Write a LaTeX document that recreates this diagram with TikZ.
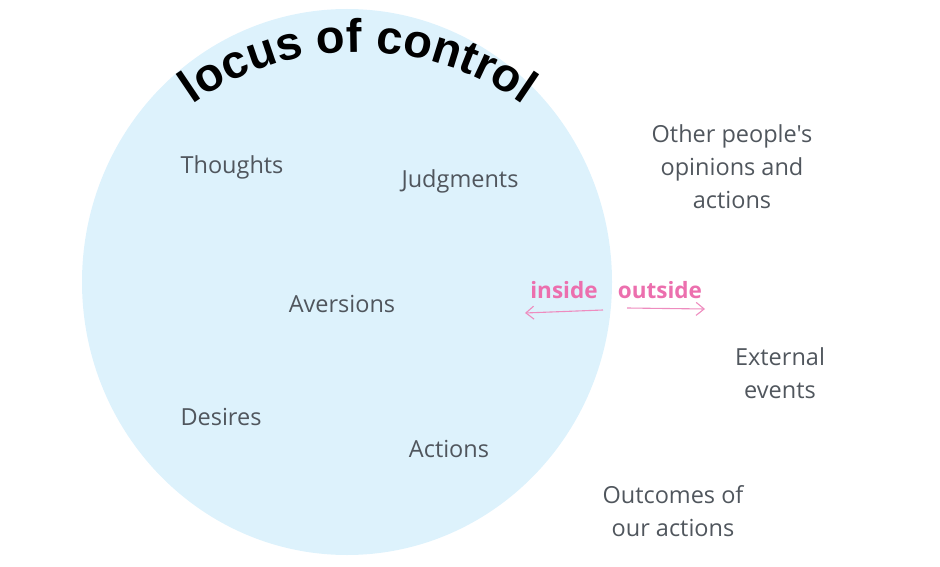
\documentclass[tikz,border=0pt]{standalone}
\usepackage{fontspec}
\setmainfont{Open Sans}[Ligatures=TeXOff]
\newfontfamily\titlefont{Liberation Sans}
\usetikzlibrary{arrows.meta, positioning, decorations.text}
\definecolor{circfill}{HTML}{DDF2FC}
\definecolor{labgray}{HTML}{50565D}
\definecolor{pinktxt}{HTML}{EC6FAE}
\definecolor{pinkline}{HTML}{EE8CBF}

\begin{document}
\begin{tikzpicture}[x=1pt, y=1pt,
    lab/.style={text=labgray, font=\fontsize{23.5}{33}\selectfont, align=center, inner sep=0pt},
    side/.style={text=pinktxt, font=\fontsize{22.5}{26}\selectfont\bfseries, inner sep=0pt},
    sidearrow/.style={pinkline, line width=1.1pt, -{Straight Barb[length=8pt, width=13pt]}}]
    \useasboundingbox (0, 0) rectangle (940, 566);

    % region
    \fill[circfill] (347, 284) ellipse[x radius=265pt, y radius=273pt];

    % curved title
    \path[decorate, decoration={text along path, text align=center,
        text={|\titlefont\bfseries\fontsize{47}{47}\selectfont|locus of control}}]
        (358, 228) ++(132:286pt) arc[start angle=132, end angle=48, radius=286pt];

    % inside
    \node[lab] (thoughts) at (232, 399) {Thoughts};
    \node[lab] (judgments) at (460, 385) {Judgments};
    \node[lab] (aversions) at (342, 262) {Aversions};
    \node[lab] (desires) at (221, 149) {Desires};
    \node[lab] (actions) at (449, 117) {Actions};

    % outside
    \node[lab] (others) at (732, 399) {Other people's\\opinions and\\actions};
    \node[lab] (external) at (780, 193) {External\\events};
    \node[lab] (outcomes) at (673, 55) {Outcomes of\\our actions};

    % inside / outside
    \node[side] (inside) at (564, 276) {inside};
    \node[side] (outside) at (660, 276) {outside};
    \coordinate (inA) at (603, 256);
    \coordinate (inB) at (525, 253);
    \coordinate (outA) at (627, 258);
    \coordinate (outB) at (705, 257);
    \draw[sidearrow] (inA) -- (inB);
    \draw[sidearrow] (outA) -- (outB);
\end{tikzpicture}
\end{document}
